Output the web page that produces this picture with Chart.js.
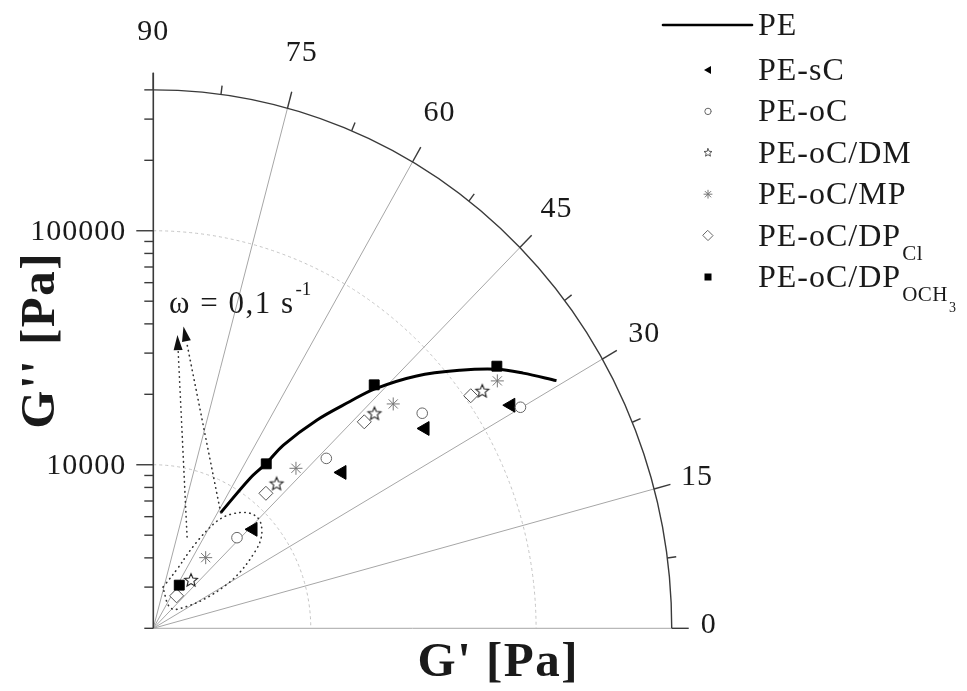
<!DOCTYPE html>
<html>
<head>
<meta charset="utf-8">
<script src="https://cdn.jsdelivr.net/npm/chart.js@4.4.1/dist/chart.umd.min.js"></script>
<style>
  html, body { margin: 0; padding: 0; background: #fff; }
  #wrap { width: 967px; height: 691px; }
</style>
</head>
<body>
<div id="wrap"><canvas id="chart" width="967" height="691"></canvas></div>
<script>
// Van Gurp-Palmen style polar plot: radius = log |G*|, angle = phase angle delta.
// Radial range of the plot (Pa)
const G_MIN = 2000;
const G_MAX = 400000;

// Complex modulus |G*| [Pa] and phase angle [deg] for each material
const peModulus   = [7560, 11800, 14600, 18800, 28100, 40300, 52200, 77900, 113000, 153000, 187000, 240000];
const pePhase     = [58.8, 56.2, 54.6, 53.6, 50.8, 48.0, 46.2, 42.7, 39.0, 36.0, 33.6, 30.6];

const sCModulus   = [8190, 23500, 60100, 142000];
const sCPhase     = [43.7, 38.5, 35.3, 31.0];

const oCModulus   = [6880, 22800, 64200, 153000];
const oCPhase     = [46.2, 43.4, 37.6, 30.1];

const dmModulus   = [3690, 13400, 44200, 120000];
const dmPhase     = [51.0, 48.5, 43.1, 34.8];

const mpModulus   = [4810, 17100, 54200, 144000];
const mpPhase     = [52.4, 47.2, 42.0, 34.7];

const dpClModulus = [2980, 11600, 38700, 106000];
const dpClPhase   = [53.3, 49.1, 43.3, 35.2];

const dpOMeModulus = [3300, 14600, 53800, 156000];
const dpOMePhase   = [58.0, 54.5, 46.7, 36.3];

// Axis furniture
const angleTicks = [0, 15, 30, 45, 60, 75, 90];
const radialLabels = [10000, 100000];
const ringValues = [10000, 100000];

const FONT = "'Liberation Serif', 'DejaVu Serif', serif";

// radius in decades above G_MIN
function radialDecades(g) { return Math.log10(g / G_MIN); }
function toPlane(mod, deg) {
  const r = radialDecades(mod), t = deg * Math.PI / 180;
  return { x: r * Math.cos(t), y: r * Math.sin(t) };
}
function series(mods, phases) { return mods.map((m, i) => toPlane(m, phases[i])); }

// open five-point star used as a point style
function makeStar(r, stroke, lw) {
  const s = Math.ceil(2 * r + 4);
  const c = document.createElement('canvas');
  c.width = s; c.height = s;
  const g = c.getContext('2d');
  starPath(g, s / 2, s / 2 + 0.5, r);
  g.fillStyle = '#fff'; g.fill();
  g.strokeStyle = stroke; g.lineWidth = lw; g.stroke();
  return c;
}
function starPath(g, cx, cy, r) {
  const ri = r * 0.45;
  g.beginPath();
  for (let i = 0; i < 10; i++) {
    const rr = i % 2 ? ri : r;
    const a = -Math.PI / 2 + i * Math.PI / 5;
    const x = cx + rr * Math.cos(a), y = cy + rr * Math.sin(a);
    i ? g.lineTo(x, y) : g.moveTo(x, y);
  }
  g.closePath();
}
const starImg = makeStar(6.8, '#222', 1.1);

// dotted annotations, in plot units (decades)
const lowFreqLoop = [[0.043,0.176],[0.105,0.249],[0.163,0.335],[0.237,0.420],[0.304,0.477],[0.385,0.498],
  [0.444,0.491],[0.481,0.456],[0.483,0.377],[0.429,0.292],[0.370,0.221],[0.296,0.164],[0.222,0.121],
  [0.148,0.092],[0.070,0.072],[0.043,0.176]];
const arrowA = { from: [0.150, 0.390], to: [0.107, 1.253] };
const arrowB = { to: [0.134, 1.290] };
const omegaLabelAt = [0.070, 1.347];

const legendItems = [
  { text: 'PE', kind: 'line' },
  { text: 'PE-sC', kind: 'triangle' },
  { text: 'PE-oC', kind: 'circle' },
  { text: 'PE-oC/DM', kind: 'star5' },
  { text: 'PE-oC/MP', kind: 'asterisk' },
  { text: 'PE-oC/DP', sub: 'Cl', kind: 'diamond' },
  { text: 'PE-oC/DP', sub: 'OCH', sub2: '3', kind: 'square' }
];

function smoothPath(ctx, pts) {
  ctx.beginPath();
  ctx.moveTo(pts[0][0], pts[0][1]);
  for (let i = 1; i < pts.length - 1; i++) {
    const mx = (pts[i][0] + pts[i + 1][0]) / 2, my = (pts[i][1] + pts[i + 1][1]) / 2;
    ctx.quadraticCurveTo(pts[i][0], pts[i][1], mx, my);
  }
  const l = pts[pts.length - 1];
  ctx.lineTo(l[0], l[1]);
}

function arrowHead(ctx, fx, fy, tx, ty, len, hw) {
  const dx = tx - fx, dy = ty - fy, d = Math.hypot(dx, dy);
  const ux = dx / d, uy = dy / d;
  const bx = tx - ux * len, by = ty - uy * len;
  ctx.beginPath();
  ctx.moveTo(tx, ty);
  ctx.lineTo(bx - uy * hw, by + ux * hw);
  ctx.lineTo(bx + uy * hw, by - ux * hw);
  ctx.closePath();
  ctx.fill();
  return [bx, by];
}

function legendSymbol(ctx, kind, x, y) {
  ctx.save();
  ctx.lineWidth = 1;
  switch (kind) {
    case 'triangle':
      ctx.fillStyle = '#000';
      ctx.beginPath(); ctx.moveTo(x - 4, y); ctx.lineTo(x + 3, y - 4); ctx.lineTo(x + 3, y + 4); ctx.closePath(); ctx.fill();
      break;
    case 'circle':
      ctx.strokeStyle = '#666'; ctx.beginPath(); ctx.arc(x, y, 3.2, 0, Math.PI * 2); ctx.stroke();
      break;
    case 'star5':
      ctx.strokeStyle = '#555'; starPath(ctx, x, y, 4.2); ctx.stroke();
      break;
    case 'asterisk':
      ctx.strokeStyle = '#777';
      ctx.beginPath();
      for (let i = 0; i < 4; i++) {
        const a = i * Math.PI / 4;
        ctx.moveTo(x - 4 * Math.cos(a), y - 4 * Math.sin(a));
        ctx.lineTo(x + 4 * Math.cos(a), y + 4 * Math.sin(a));
      }
      ctx.stroke();
      break;
    case 'diamond':
      ctx.strokeStyle = '#666';
      ctx.beginPath(); ctx.moveTo(x, y - 5); ctx.lineTo(x + 5, y); ctx.lineTo(x, y + 5); ctx.lineTo(x - 5, y); ctx.closePath(); ctx.stroke();
      break;
    case 'square':
      ctx.fillStyle = '#000'; ctx.fillRect(x - 3.5, y - 3.5, 7, 7);
      break;
  }
  ctx.restore();
}

const polarFrame = {
  id: 'polarFrame',
  beforeDatasetsDraw(chart) {
    const { ctx } = chart;
    const xs = chart.scales.x, ys = chart.scales.y;
    const ox = xs.getPixelForValue(0), oy = ys.getPixelForValue(0);
    const R = radialDecades(G_MAX);
    const rx = xs.getPixelForValue(R) - ox, ry = oy - ys.getPixelForValue(R);
    ctx.save();

    // dotted modulus rings
    ctx.strokeStyle = '#c4c4c4'; ctx.lineWidth = 1; ctx.setLineDash([3, 3]);
    ringValues.forEach(g => {
      const r = radialDecades(g);
      const a = xs.getPixelForValue(r) - ox, b = oy - ys.getPixelForValue(r);
      ctx.beginPath(); ctx.ellipse(ox, oy, a, b, 0, -Math.PI / 2, 0); ctx.stroke();
    });
    ctx.setLineDash([]);

    // phase-angle spokes
    ctx.strokeStyle = '#a6a6a6'; ctx.lineWidth = 1;
    angleTicks.filter(d => d < 90).forEach(d => {
      const t = d * Math.PI / 180;
      ctx.beginPath(); ctx.moveTo(ox, oy);
      ctx.lineTo(xs.getPixelForValue(R * Math.cos(t)), ys.getPixelForValue(R * Math.sin(t)));
      ctx.stroke();
    });

    // outer arc
    ctx.strokeStyle = '#3a3a3a'; ctx.lineWidth = 1.4;
    ctx.beginPath(); ctx.ellipse(ox, oy, rx, ry, 0, -Math.PI / 2, 0); ctx.stroke();

    // arc ticks every 7.5 degrees, labelled every 15
    for (let d = 0; d <= 90; d += 7.5) {
      const t = d * Math.PI / 180;
      const ax = ox + rx * Math.cos(t), ay = oy - ry * Math.sin(t);
      const nx = rx * Math.cos(t), ny = -ry * Math.sin(t), nl = Math.hypot(nx, ny);
      const major = d % 15 === 0;
      const len = major ? 17 : 9;
      ctx.beginPath(); ctx.moveTo(ax, ay); ctx.lineTo(ax + nx / nl * len, ay + ny / nl * len); ctx.stroke();
    }
    ctx.fillStyle = '#1a1a1a';
    ctx.font = `30px ${FONT}`;
    ctx.letterSpacing = '1px';
    ctx.textAlign = 'center'; ctx.textBaseline = 'middle';
    angleTicks.forEach(d => {
      const t = d * Math.PI / 180;
      const ax = ox + rx * Math.cos(t), ay = oy - ry * Math.sin(t);
      const nx = rx * Math.cos(t), ny = -ry * Math.sin(t), nl = Math.hypot(nx, ny);
      const dist = 40 + 18 * Math.sin(t);
      ctx.fillText(String(d), ax + nx / nl * dist - (d === 0 ? 3 : 0), ay + ny / nl * dist - (d === 0 ? 3 : 0));
    });

    // vertical log axis (G'')
    ctx.strokeStyle = '#3a3a3a'; ctx.lineWidth = 1.6;
    ctx.beginPath(); ctx.moveTo(ox, oy); ctx.lineTo(ox, oy - ry - 17); ctx.stroke();
    ctx.lineWidth = 1.4;
    for (const dec of [1000, 10000, 100000]) {
      for (let k = 1; k <= 9; k++) {
        const v = k * dec;
        if (v < G_MIN || v > G_MAX) continue;
        const y = ys.getPixelForValue(radialDecades(v));
        const len = radialLabels.includes(v) ? 17 : 9;
        ctx.beginPath(); ctx.moveTo(ox - len, y); ctx.lineTo(ox, y); ctx.stroke();
      }
    }
    ctx.textAlign = 'right'; ctx.textBaseline = 'middle';
    radialLabels.forEach(v => {
      ctx.fillText(String(v), ox - 27, ys.getPixelForValue(radialDecades(v)) + 1);
    });

    // axis titles
    ctx.font = `bold 49px ${FONT}`;
    ctx.letterSpacing = '1.5px';
    ctx.textAlign = 'center'; ctx.textBaseline = 'alphabetic';
    ctx.fillText("G' [Pa]", ox + 345, oy + 48);
    ctx.save();
    ctx.translate(ox - 99, oy - 288);
    ctx.rotate(-Math.PI / 2);
    ctx.fillText("G'' [Pa]", 0, 0);
    ctx.restore();
    ctx.letterSpacing = '0px';

    ctx.restore();
  },
  afterDatasetsDraw(chart) {
    const { ctx } = chart;
    const xs = chart.scales.x, ys = chart.scales.y;
    const P = p => [xs.getPixelForValue(p[0]), ys.getPixelForValue(p[1])];
    ctx.save();

    // dotted loop around the lowest-frequency points and arrows to the label
    ctx.strokeStyle = '#333'; ctx.fillStyle = '#111';
    ctx.lineWidth = 1.6; ctx.lineCap = 'round'; ctx.setLineDash([0.5, 4.5]);
    smoothPath(ctx, lowFreqLoop.map(P)); ctx.stroke();

    const a0 = P(arrowA.from), a1 = P(arrowA.to);
    const pe0 = toPlane(peModulus[0], pePhase[0]);
    const b0 = P([pe0.x, pe0.y]), b1 = P(arrowB.to);
    ctx.setLineDash([]);
    const aBase = arrowHead(ctx, a0[0], a0[1], a1[0], a1[1], 15, 4.5);
    const bBase = arrowHead(ctx, b0[0], b0[1], b1[0], b1[1], 15, 4.5);
    ctx.setLineDash([0.5, 4.5]);
    ctx.beginPath(); ctx.moveTo(a0[0], a0[1]); ctx.lineTo(aBase[0], aBase[1]); ctx.stroke();
    ctx.beginPath(); ctx.moveTo(b0[0], b0[1]); ctx.lineTo(bBase[0], bBase[1]); ctx.stroke();
    ctx.setLineDash([]);

    // frequency label
    const w = P(omegaLabelAt);
    ctx.fillStyle = '#1a1a1a';
    ctx.font = `31px ${FONT}`;
    ctx.letterSpacing = '1.5px';
    ctx.textAlign = 'left'; ctx.textBaseline = 'alphabetic';
    const mainTxt = '\u03c9 = 0,1 s';
    ctx.fillText(mainTxt, w[0], w[1]);
    const mw = ctx.measureText(mainTxt).width;
    ctx.letterSpacing = '0px';
    ctx.font = `19px ${FONT}`;
    ctx.fillText('-1', w[0] + mw + 1, w[1] - 18);

    // legend
    const lx = 708, tx = 758;
    const baselines = [35, 80, 121.4, 162.8, 204.2, 245.6, 287];
    legendItems.forEach((it, i) => {
      const by = baselines[i];
      const cy = by - 10;
      if (it.kind === 'line') {
        ctx.strokeStyle = '#000'; ctx.lineWidth = 2.6;
        ctx.beginPath(); ctx.moveTo(663, cy); ctx.lineTo(752, cy); ctx.stroke();
      } else {
        legendSymbol(ctx, it.kind, lx, cy);
      }
      ctx.fillStyle = '#1a1a1a';
      ctx.font = `32px ${FONT}`;
      ctx.letterSpacing = '1px';
      ctx.fillText(it.text, tx, by);
      if (it.sub) {
        const w1 = ctx.measureText(it.text).width;
        ctx.letterSpacing = '0.5px';
        ctx.font = `21px ${FONT}`;
        ctx.fillText(it.sub, tx + w1 + 1, by + 14);
        if (it.sub2) {
          const w2 = ctx.measureText(it.sub).width;
          ctx.font = `14px ${FONT}`;
          ctx.fillText(it.sub2, tx + w1 + 1 + w2 + 1, by + 25);
        }
      }
      ctx.letterSpacing = '0px';
    });
    ctx.restore();
  }
};

const datasets = [
  { label: 'PE', data: series(peModulus, pePhase), showLine: true, borderColor: '#000', borderWidth: 3,
    pointRadius: 0, tension: 0.35, order: 7 },
  { label: 'PE-sC', data: series(sCModulus, sCPhase), pointStyle: 'triangle', rotation: -90, pointRadius: 8,
    backgroundColor: '#000', borderColor: '#000', borderWidth: 1, order: 6 },
  { label: 'PE-oC', data: series(oCModulus, oCPhase), pointStyle: 'circle', pointRadius: 5.3,
    backgroundColor: '#fff', borderColor: '#666', borderWidth: 1, order: 5 },
  { label: 'PE-oC/MP', data: series(mpModulus, mpPhase), pointStyle: 'star', pointRadius: 6.5,
    backgroundColor: '#777', borderColor: '#777', borderWidth: 1, order: 4 },
  { label: 'PE-oC/DPCl', data: series(dpClModulus, dpClPhase), pointStyle: 'rectRot', pointRadius: 7,
    backgroundColor: '#fff', borderColor: '#555', borderWidth: 1, order: 3 },
  { label: 'PE-oC/DM', data: series(dmModulus, dmPhase), pointStyle: starImg, pointRadius: 6,
    backgroundColor: '#fff', borderColor: '#222', borderWidth: 1, order: 2 },
  { label: 'PE-oC/DPOCH3', data: series(dpOMeModulus, dpOMePhase), pointStyle: 'rect', pointRadius: 7,
    backgroundColor: '#000', borderColor: '#000', borderWidth: 1, order: 1 }
];

// linear plot units: one unit = one decade of |G*|
const X_MIN = -0.6804, X_MAX = 3.6116;
const Y_MIN = -0.2679, Y_MAX = 2.6851;

new Chart(document.getElementById('chart'), {
  type: 'scatter',
  data: { datasets },
  options: {
    responsive: false,
    animation: false,
    events: [],
    layout: { padding: 0, autoPadding: false },
    scales: {
      x: { type: 'linear', min: X_MIN, max: X_MAX, display: false },
      y: { type: 'linear', min: Y_MIN, max: Y_MAX, display: false }
    },
    plugins: { legend: { display: false }, tooltip: { enabled: false } }
  },
  plugins: [polarFrame]
});
</script>
</body>
</html>
